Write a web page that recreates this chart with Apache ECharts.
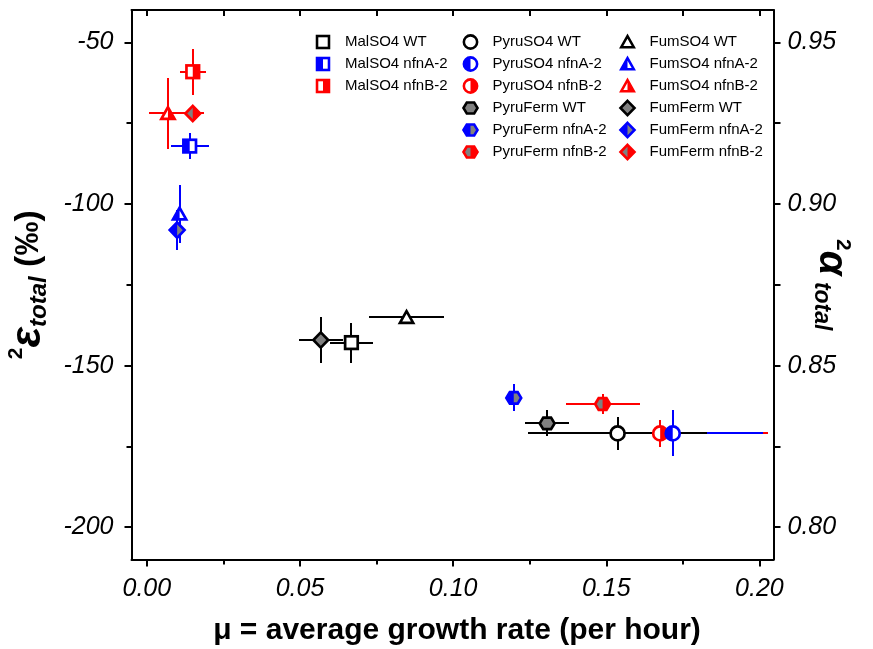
<!DOCTYPE html>
<html>
<head>
<meta charset="UTF-8">
<script src="https://cdn.jsdelivr.net/npm/echarts@6/dist/echarts.min.js"></script>
<style>
html, body { margin: 0; padding: 0; background: #fff; }
#chart { width: 873px; height: 649px; }
</style>
</head>
<body>
<div id="chart"></div>
<script>
// ---- data ----
const seriesNames = [
    'MalSO4 WT', 'MalSO4 nfnA-2', 'MalSO4 nfnB-2',
    'PyruSO4 WT', 'PyruSO4 nfnA-2', 'PyruSO4 nfnB-2',
    'PyruFerm WT', 'PyruFerm nfnA-2', 'PyruFerm nfnB-2',
    'FumSO4 WT', 'FumSO4 nfnA-2', 'FumSO4 nfnB-2',
    'FumFerm WT', 'FumFerm nfnA-2', 'FumFerm nfnB-2'
];
// growth rate mu (per hour)
const muValues = [0.0668, 0.0140, 0.0150, 0.1537, 0.1717, 0.1676, 0.1307, 0.1198, 0.1488, 0.0848, 0.0107, 0.0069, 0.0568, 0.0099, 0.0150];
const muErrors = [0.0070, 0.0062, 0.0042, 0.0292, 0.0294, 0.0353, 0.0072, 0.0000, 0.0121, 0.0123, 0.0000, 0.0062, 0.0072, 0.0000, 0.0036];
// 2-epsilon total (permil)
const epsValues = [-142.9, -82.1, -59.1, -171.0, -171.0, -171.0, -167.9, -160.0, -161.9, -135.1, -103.1, -72.0, -142.1, -108.1, -72.0];
const epsErrors = [6.2, 4.1, 7.1, 5.1, 7.1, 4.2, 4.0, 4.2, 3.1, 0, 9.1, 11.1, 7.1, 6.2, 0];

const xTickValues = [0, 0.05, 0.10, 0.15, 0.20];
const xMinorTicks = [0.025, 0.075, 0.125, 0.175];
const epsTickValues = [-50, -100, -150, -200];
const epsMinorTicks = [-75, -125, -175];
const alphaTickValues = [0.80, 0.85, 0.90, 0.95];
const alphaMinorTicks = [0.825, 0.875, 0.925];

// legend columns (indices into seriesNames)
const legendColumns = [[0, 1, 2], [3, 4, 5, 6, 7, 8], [9, 10, 11, 12, 13, 14]];

// ---- marker styles ----
const FONT = "'Liberation Sans', Arial, Helvetica, sans-serif";
const BLUE = '#0000ff', RED = '#ff0000', GREY = '#808080';
const shapeOf = ['square', 'square', 'square', 'circle', 'circle', 'circle', 'hexagon', 'hexagon', 'hexagon',
    'triangle', 'triangle', 'triangle', 'diamond', 'diamond', 'diamond'];
const strainColor = [ '#000', BLUE, RED ];
const strainHalf = [ null, 'left', 'right' ];
const barRank = [ 2, 1, 0 ];   // draw red bars first, then blue, black on top
const isFerm = i => shapeOf[i] === 'hexagon' || shapeOf[i] === 'diamond';

const shapeSvg = {
    square: '<rect x="3.7" y="3.7" width="12.6" height="12.6"/>',
    circle: '<circle cx="10" cy="10" r="7.0"/>',
    triangle: '<polygon points="10,3.8 3.4,15.5 16.6,15.5"/>',
    hexagon: '<polygon points="2.6,10 6.1,4.2 13.9,4.2 17.4,10 13.9,15.8 6.1,15.8"/>',
    diamond: '<polygon points="10,2.4 17.4,10 10,17.6 2.6,10"/>'
};

function markerImage(i) {
    const shape = shapeSvg[shapeOf[i]];
    const color = strainColor[i % 3];
    const half = strainHalf[i % 3];
    const base = isFerm(i) ? GREY : '#ffffff';
    let svg = '<svg xmlns="http://www.w3.org/2000/svg" width="20" height="20" viewBox="0 0 20 20">';
    if (half) {
        svg += '<defs><clipPath id="h"><rect x="' + (half === 'left' ? 0 : 10) + '" y="0" width="10" height="20"/></clipPath></defs>';
    }
    svg += '<g fill="' + base + '">' + shape + '</g>';
    if (half) {
        svg += '<g fill="' + color + '" clip-path="url(#h)">' + shape + '</g>';
    }
    svg += '<g fill="none" stroke="' + color + '" stroke-width="2.7">' + shape + '</g></svg>';
    return 'image://data:image/svg+xml;charset=utf-8,' + encodeURIComponent(svg);
}

const icons = seriesNames.map((n, i) => markerImage(i));

// ---- series ----
// all error bars in one custom series, ordered red -> blue -> black
const errorRows = seriesNames.map((n, i) => [muValues[i], epsValues[i], muErrors[i], epsErrors[i], i])
    .sort((a, b) => barRank[a[4] % 3] - barRank[b[4] % 3]);

const series = [{
    type: 'custom',
    name: '_errorbars',
    xAxisIndex: 0,
    yAxisIndex: 0,
    z: 2,
    silent: true,
    data: errorRows,
    renderItem: (params, api) => {
        const x = api.value(0), y = api.value(1), dx = api.value(2), dy = api.value(3);
        const color = strainColor[api.value(4) % 3];
        const z2 = params.dataIndex;
        const children = [];
        // snap to whole pixels so overlapping bars do not blend at the edges
        if (dx > 0) {
            const a = api.coord([x - dx, y]), b = api.coord([x + dx, y]);
            const py = Math.round(a[1]);
            children.push({ type: 'line', z2: z2, shape: { x1: Math.round(a[0]), y1: py, x2: Math.round(b[0]), y2: py },
                style: { stroke: color, lineWidth: 2 } });
        }
        if (dy > 0) {
            const a = api.coord([x, y - dy]), b = api.coord([x, y + dy]);
            const px = Math.round(a[0]);
            children.push({ type: 'line', z2: z2, shape: { x1: px, y1: Math.round(a[1]), x2: px, y2: Math.round(b[1]) },
                style: { stroke: color, lineWidth: 2 } });
        }
        return { type: 'group', children: children };
    }
}];

seriesNames.forEach((name, i) => {
    series.push({
        type: 'scatter',
        name: name,
        xAxisIndex: 0,
        yAxisIndex: 0,
        z: i === 4 ? 4 : 3,
        symbol: icons[i],
        symbolSize: 20,
        itemStyle: { opacity: 1 },
        data: [[muValues[i], epsValues[i]]]
    });
});

// ---- axes ----
const X_MIN = -0.005, X_MAX = 0.2046;
const Y_MIN = -210, Y_MAX = -40;
const frameLine = { show: true, onZero: false, lineStyle: { color: '#000', width: 2 } };
const tickStyle = { color: '#000', width: 2 };
const tickLabel = { fontSize: 25, fontStyle: 'italic', color: '#000', fontFamily: FONT };
const noLine = { show: false, onZero: false };

const option = {
    animation: false,
    backgroundColor: '#fff',
    grid: { left: 131.5, right: 99.5, top: 10, bottom: 89.5, containLabel: false, outerBoundsMode: 'none' },
    legend: legendColumns.map((col, c) => ({
        orient: 'vertical',
        left: [301, 448.5, 605.5][c],
        top: 27.5,
        itemWidth: 34,
        itemHeight: 19,
        itemGap: 3,
        selectedMode: false,
        itemStyle: { opacity: 1 },
        textStyle: { fontSize: 15, color: '#000', fontFamily: FONT },
        data: col.map(i => ({ name: seriesNames[i], icon: icons[i] }))
    })),
    xAxis: [
        {
            type: 'value', position: 'bottom', min: X_MIN, max: X_MAX,
            axisLine: frameLine,
            axisTick: { customValues: xTickValues, length: 7, lineStyle: tickStyle },
            axisLabel: Object.assign({ customValues: xTickValues, margin: 17, formatter: v => v.toFixed(2) }, tickLabel),
            splitLine: { show: false },
            name: 'μ = average growth rate (per hour)',
            nameLocation: 'middle',
            nameGap: 56,
            nameTextStyle: { fontSize: 30, fontWeight: 'bold', color: '#000', fontFamily: FONT, padding: [0, 0, 0, 9] }
        },
        {
            type: 'value', position: 'top', min: X_MIN, max: X_MAX,
            axisLine: frameLine,
            axisTick: { inside: true, customValues: xTickValues.concat(xMinorTicks), length: 6, lineStyle: tickStyle },
            axisLabel: { show: false },
            splitLine: { show: false }
        },
        {
            type: 'value', position: 'bottom', min: X_MIN, max: X_MAX,
            axisLine: noLine,
            axisTick: { customValues: xMinorTicks, length: 5, lineStyle: tickStyle },
            axisLabel: { show: false },
            splitLine: { show: false }
        }
    ],
    yAxis: [
        {
            type: 'value', position: 'left', min: Y_MIN, max: Y_MAX,
            axisLine: frameLine,
            axisTick: { customValues: epsTickValues, length: 7, lineStyle: tickStyle },
            axisLabel: Object.assign({ customValues: epsTickValues, margin: 18 }, tickLabel),
            splitLine: { show: false },
            name: '{sup|2}{eps|ε}{sub|total}{par| (‰)}',
            nameLocation: 'middle',
            nameRotate: 90,
            nameGap: 80,
            nameTextStyle: {
                color: '#000',
                rich: {
                    sup: { fontSize: 21, fontWeight: 'bold', fontFamily: FONT, color: '#000', verticalAlign: 'top', lineHeight: 22 },
                    eps: { fontSize: 43, fontWeight: 'bold', fontStyle: 'italic', fontFamily: FONT, color: '#000', lineHeight: 46 },
                    sub: { fontSize: 24, fontWeight: 'bold', fontStyle: 'italic', fontFamily: FONT, color: '#000', verticalAlign: 'bottom', lineHeight: 27 },
                    par: { fontSize: 34, fontWeight: 'bold', fontFamily: FONT, color: '#000', lineHeight: 46 }
                }
            }
        },
        {
            type: 'value', position: 'right', min: 1 + Y_MIN / 1000, max: 1 + Y_MAX / 1000,
            axisLine: frameLine,
            axisTick: { customValues: alphaTickValues.concat(alphaMinorTicks), length: 7, lineStyle: tickStyle },
            axisLabel: Object.assign({ customValues: alphaTickValues, margin: 14, formatter: v => v.toFixed(2) }, tickLabel),
            splitLine: { show: false },
            name: '{sup|2}{al|α}{sub| total}',
            nameLocation: 'middle',
            nameRotate: -90,
            nameGap: 36,
            nameMoveOverlap: false,
            nameTextStyle: {
                color: '#000',
                rich: {
                    sup: { fontSize: 21, fontWeight: 'bold', fontFamily: FONT, color: '#000', verticalAlign: 'top', lineHeight: 22 },
                    al: { fontSize: 40, fontWeight: 'bold', fontStyle: 'italic', fontFamily: FONT, color: '#000', lineHeight: 44 },
                    sub: { fontSize: 23, fontWeight: 'bold', fontStyle: 'italic', fontFamily: FONT, color: '#000', verticalAlign: 'bottom', lineHeight: 26 }
                }
            }
        },
        {
            type: 'value', position: 'left', min: Y_MIN, max: Y_MAX,
            axisLine: noLine,
            axisTick: { customValues: epsMinorTicks, length: 5, lineStyle: tickStyle },
            axisLabel: { show: false },
            splitLine: { show: false }
        }
    ],
    series: series
};

const chart = echarts.init(document.getElementById('chart'));
chart.setOption(option);
</script>
</body>
</html>
